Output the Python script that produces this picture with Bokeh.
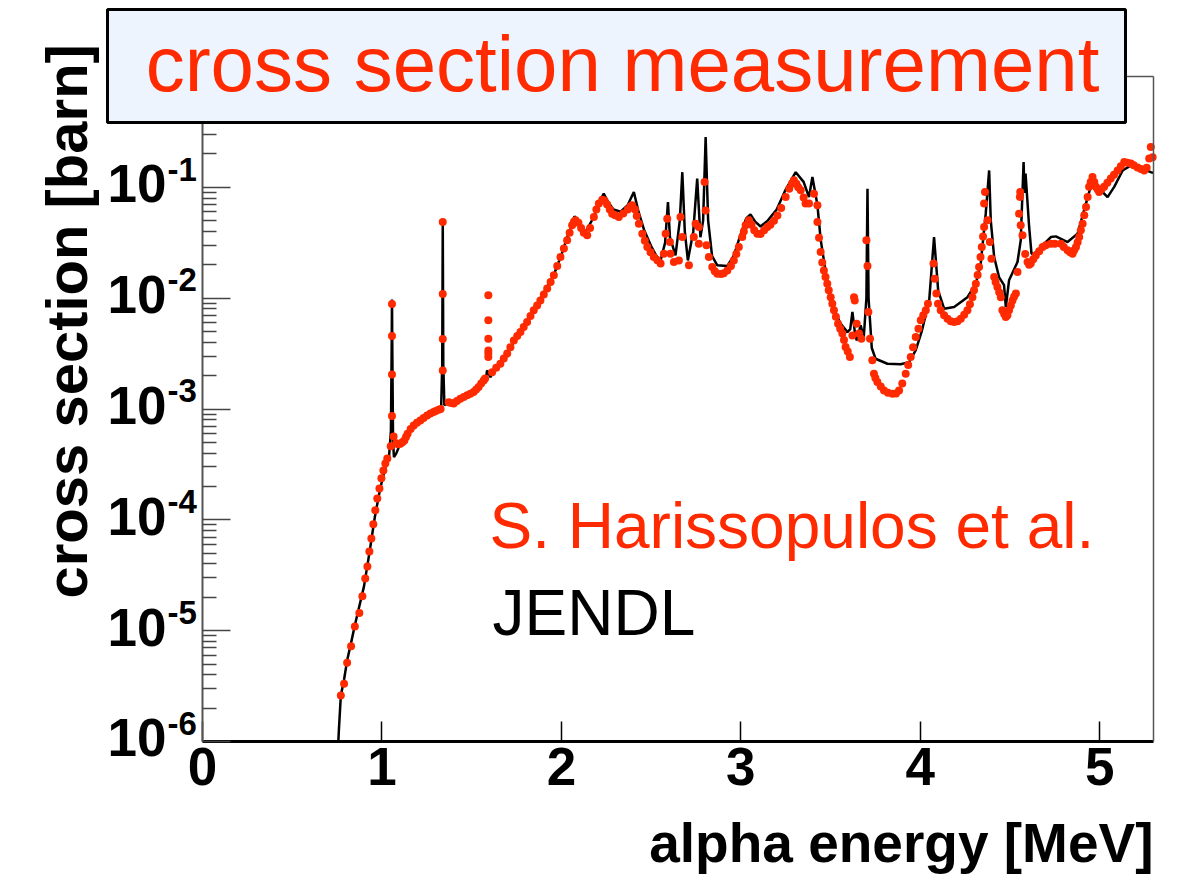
import math
from bokeh.plotting import figure
from bokeh.models import Range1d, FixedTicker, Label, BoxAnnotation, LinearAxis, LogAxis
from bokeh.embed import file_html
from bokeh.resources import INLINE

# ---- measured cross section (Harissopulos et al.), energy in MeV, sigma in barn
harissopulos_energy = [
    0.771, 0.789, 0.806, 0.828, 0.849, 0.874, 0.891, 0.907, 0.919, 0.930, 0.941, 0.952,
    0.963, 0.974, 0.986, 0.997, 1.008, 1.019, 1.030,
    1.049, 1.056, 1.056, 1.056, 1.056, 1.065,
    1.103, 1.125, 1.143, 1.177, 1.214, 1.252, 1.288, 1.316,
    1.339, 1.339, 1.339, 1.339,
    1.372, 1.400, 1.437, 1.475, 1.511, 1.539, 1.567,
    1.593, 1.593, 1.593, 1.593, 1.593, 1.593,
    1.614, 1.660, 1.698, 1.735, 1.772, 1.809, 1.846, 1.883, 1.921, 1.958, 1.995, 2.032,
    2.060, 2.079, 2.144, 2.181, 2.209, 2.228, 2.283, 2.320, 2.395, 2.432, 2.451, 2.479,
    2.515, 2.553, 2.571, 2.581, 2.590, 2.605, 2.608, 2.627, 2.655, 2.664, 2.674, 2.711,
    2.738, 2.748, 2.766, 2.766, 2.798, 2.804, 2.809, 2.822, 2.841, 2.869, 2.925, 2.961,
    2.989, 3.008, 3.027, 3.045, 3.092, 3.148, 3.204, 3.250, 3.296, 3.334, 3.361, 3.380,
    3.408, 3.427, 3.427, 3.445, 3.463, 3.482, 3.501, 3.519, 3.542, 3.566, 3.584, 3.608,
    3.622, 3.631, 3.635, 3.646, 3.659, 3.672,
    3.700, 3.706, 3.711, 3.720, 3.733, 3.742, 3.761, 3.798, 3.845, 3.882, 3.919, 3.947,
    3.975, 4.003, 4.031, 4.043, 4.074, 4.081, 4.090, 4.099, 4.114, 4.152, 4.189, 4.226,
    4.263, 4.291, 4.310, 4.328, 4.343, 4.356, 4.356, 4.361, 4.375, 4.388, 4.397, 4.412,
    4.430, 4.449, 4.458, 4.477, 4.495, 4.514, 4.533, 4.542, 4.551, 4.555, 4.557, 4.560,
    4.570, 4.598, 4.616, 4.644, 4.682, 4.728, 4.784, 4.821, 4.849, 4.868, 4.886, 4.905,
    4.924, 4.933, 4.941, 4.960, 4.979, 4.997, 5.025, 5.062, 5.100, 5.137, 5.174, 5.211,
    5.248, 5.276, 5.285, 5.295,
    # further points along the densely measured stretches
    1.080, 1.090, 1.114, 1.134, 1.160, 1.195, 1.232, 1.270, 1.300, 1.327,
    1.386, 1.418, 1.456, 1.493, 1.525, 1.553, 1.575,
    1.637, 1.679, 1.716, 1.754, 1.790, 1.828, 1.865, 1.902, 1.940, 1.977, 2.014, 2.046, 2.070,
    2.095, 2.110, 2.125, 2.160, 2.195, 2.240, 2.255, 2.270, 2.300, 2.345, 2.370, 2.385, 2.410,
    2.420, 2.465, 2.497, 2.535,
    2.855, 2.890, 2.905, 2.945, 2.975, 3.017, 3.060, 3.075, 3.110, 3.130, 3.165, 3.185, 3.225,
    3.270, 3.285, 3.310, 3.320, 3.350,
    3.436, 3.454, 3.472, 3.490, 3.510, 3.530, 3.554, 3.575, 3.596,
    3.750, 3.780, 3.820, 3.865, 3.900, 3.933, 3.960, 3.990, 4.017,
    4.133, 4.170, 4.208, 4.245, 4.277, 4.300, 4.320, 4.336, 4.350,
    4.420, 4.440, 4.468, 4.486, 4.505, 4.523,
    4.585, 4.607, 4.630, 4.663, 4.700, 4.750, 4.800, 4.835, 4.858, 4.877, 4.895, 4.914, 4.950,
    4.970, 4.988, 5.010, 5.043, 5.080, 5.118, 5.155, 5.190, 5.230, 5.262,
]
harissopulos_xs = [
    2.60e-6, 3.32e-6, 5.13e-6, 7.24e-6, 1.09e-5, 1.44e-5, 2.04e-5, 2.96e-5, 3.79e-5, 5.19e-5, 6.79e-5, 9.1e-5,
    1.22e-4, 1.56e-4, 1.92e-4, 2.37e-4, 2.79e-4, 3.23e-4, 3.58e-4,
    4.62e-4, 8.63e-4, 2.05e-3, 4.55e-3, 8.85e-3, 5.66e-4,
    4.86e-4, 5.21e-4, 5.98e-4, 7.11e-4, 7.89e-4, 8.75e-4, 9.38e-4, 9.86e-4,
    4.86e-2, 1.09e-2, 4.28e-3, 2.23e-3,
    1.15e-3, 1.12e-3, 1.24e-3, 1.33e-3, 1.42e-3, 1.58e-3, 1.81e-3,
    1.06e-2, 6.31e-3, 4.31e-3, 3.38e-3, 3.16e-3, 2.94e-3,
    2.15e-3, 2.56e-3, 3.16e-3, 4.16e-3, 4.94e-3, 6.08e-3, 7.76e-3, 9.55e-3, 1.22e-2, 1.61e-2, 2.35e-2, 3.33e-2,
    4.54e-2, 5.04e-2, 3.69e-2, 5.40e-2, 7.13e-2, 7.74e-2, 5.79e-2, 5.40e-2, 6.89e-2, 4.70e-2, 3.82e-2, 2.89e-2,
    2.35e-2, 2.05e-2, 2.52e-2, 3.82e-2, 5.21e-2, 3.21e-2, 2.52e-2, 2.12e-2, 2.19e-2, 5.40e-2, 3.56e-2, 1.98e-2,
    3.56e-2, 4.70e-2, 4.39e-2, 3.10e-2, 0.112, 6.19e-2, 3.00e-2, 2.35e-2, 1.91e-2, 1.66e-2, 1.78e-2, 2.19e-2,
    2.89e-2, 3.56e-2, 4.54e-2, 5.04e-2, 3.82e-2, 4.39e-2, 5.58e-2, 8.17e-2, 0.116, 9.40e-2, 7.13e-2, 7.13e-2,
    8.77e-2, 6.89e-2, 4.86e-2, 2.61e-2, 1.78e-2, 1.35e-2, 1.02e-2, 7.76e-3, 5.89e-3, 4.79e-3, 3.62e-3, 2.94e-3,
    4.61e-3, 1.02e-2, 9.55e-3, 5.89e-3, 4.79e-3, 4.31e-3,
    3.33e-2, 1.95e-2, 7.50e-3, 4.31e-3, 2.75e-3, 2.08e-3, 1.75e-3, 1.47e-3, 1.37e-3, 1.47e-3, 2.08e-3, 2.94e-3,
    4.46e-3, 6.31e-3, 7.76e-3, 8.91e-3, 2.05e-2, 1.50e-2, 1.10e-2, 8.91e-3, 7.76e-3, 6.53e-3, 6.08e-3, 6.53e-3,
    7.76e-3, 1.02e-2, 1.35e-2, 1.91e-2, 2.89e-2, 4.39e-2, 7.13e-2, 9.08e-2, 5.04e-2, 3.21e-2, 2.27e-2, 1.55e-2,
    1.26e-2, 1.02e-2, 7.76e-3, 6.76e-3, 7.76e-3, 9.55e-3, 1.10e-2, 1.72e-2, 5.79e-2, 8.17e-2, 9.08e-2, 4.54e-2,
    3.69e-2, 2.12e-2, 2.05e-2, 2.43e-2, 2.89e-2, 3.10e-2, 3.10e-2, 2.70e-2, 2.52e-2, 2.89e-2, 3.56e-2, 4.70e-2,
    6.64e-2, 8.17e-2, 0.101, 0.124, 0.101, 9.08e-2, 0.101, 0.120, 0.142, 0.169, 0.164, 0.151,
    0.142, 0.182, 0.231, 0.187,
    4.9e-4, 4.8e-4, 5.0e-4, 5.6e-4, 6.6e-4, 7.5e-4, 8.3e-4, 9.1e-4, 9.6e-4, 1.0e-3,
    1.13e-3, 1.18e-3, 1.28e-3, 1.37e-3, 1.50e-3, 1.70e-3, 1.88e-3,
    2.35e-3, 2.85e-3, 3.6e-3, 4.55e-3, 5.5e-3, 6.9e-3, 8.6e-3, 1.08e-2, 1.40e-2, 1.95e-2, 2.8e-2, 3.9e-2, 4.9e-2,
    4.8e-2, 4.3e-2, 3.9e-2, 4.3e-2, 6.3e-2, 7.6e-2, 7.0e-2, 6.3e-2, 5.6e-2, 5.8e-2, 6.3e-2, 6.7e-2, 6.3e-2,
    5.5e-2, 3.3e-2, 2.6e-2, 2.2e-2,
    1.75e-2, 1.65e-2, 1.68e-2, 1.95e-2, 2.5e-2, 4.0e-2, 4.6e-2, 4.1e-2, 3.8e-2, 4.1e-2, 4.6e-2, 5.0e-2, 6.5e-2,
    9.7e-2, 0.108, 0.108, 0.100, 8.1e-2,
    3.5e-2, 2.1e-2, 1.55e-2, 1.18e-2, 8.9e-3, 6.8e-3, 5.3e-3, 4.2e-3, 3.3e-3,
    1.9e-3, 1.6e-3, 1.4e-3, 1.38e-3, 1.7e-3, 2.5e-3, 3.6e-3, 5.3e-3, 7.0e-3,
    7.0e-3, 6.2e-3, 6.2e-3, 7.1e-3, 8.8e-3, 1.18e-2, 1.62e-2, 2.35e-2, 3.6e-2,
    1.4e-2, 1.13e-2, 7.2e-3, 7.0e-3, 8.6e-3, 1.03e-2,
    2.5e-2, 2.0e-2, 2.25e-2, 2.65e-2, 3.0e-2, 3.1e-2, 2.9e-2, 2.6e-2, 2.7e-2, 3.2e-2, 4.1e-2, 5.6e-2, 0.112,
    0.112, 9.6e-2, 9.6e-2, 0.110, 0.130, 0.155, 0.167, 0.158, 0.146, 0.150,
]

# ---- evaluated cross section (JENDL)
jendl_energy = [
    0.757, 0.760, 0.771, 0.789, 0.806, 0.828, 0.849, 0.874, 0.900, 0.930, 0.960, 0.990,
    1.020, 1.040, 1.050, 1.054, 1.056, 1.058, 1.062, 1.067, 1.080, 1.100, 1.140, 1.200,
    1.260, 1.310, 1.330, 1.336, 1.339, 1.342, 1.348, 1.370, 1.400, 1.450, 1.500, 1.550,
    1.580, 1.586, 1.605, 1.620, 1.660, 1.700, 1.740, 1.780, 1.810, 1.850, 1.880, 1.920,
    1.960, 2.000, 2.030, 2.060, 2.073, 2.100, 2.134, 2.180, 2.210, 2.236, 2.260, 2.290,
    2.330, 2.370, 2.404, 2.430, 2.460, 2.500, 2.530, 2.553, 2.578, 2.594, 2.605, 2.636,
    2.660, 2.674, 2.688, 2.705, 2.735, 2.757, 2.775, 2.790, 2.804, 2.818, 2.840, 2.869,
    2.925, 2.960, 3.000, 3.030, 3.054, 3.080, 3.110, 3.150, 3.200, 3.250, 3.306, 3.350,
    3.380, 3.399, 3.427, 3.445, 3.480, 3.520, 3.556, 3.594, 3.610, 3.622, 3.635, 3.646,
    3.668, 3.685, 3.700, 3.706, 3.712, 3.730, 3.751, 3.817, 3.891, 3.938, 3.975, 4.010,
    4.050, 4.077, 4.100, 4.133, 4.189, 4.263, 4.310, 4.337, 4.365, 4.384, 4.393, 4.412,
    4.439, 4.467, 4.477, 4.495, 4.542, 4.560, 4.576, 4.581, 4.587, 4.607, 4.620, 4.635,
    4.728, 4.756, 4.821, 4.877, 4.913, 4.960, 5.007, 5.044, 5.081, 5.128, 5.174, 5.230,
    5.286, 5.300,
]
jendl_xs = [
    1.0e-6, 1.26e-6, 2.6e-6, 3.63e-6, 5.37e-6, 7.76e-6, 1.12e-5, 1.66e-5, 2.51e-5, 5.01e-5, 1.05e-4, 1.91e-4,
    3.02e-4, 3.80e-4, 6.31e-4, 3.16e-3, 9.70e-3, 3.16e-3, 5.01e-4, 3.68e-4, 3.98e-4, 4.79e-4, 5.89e-4, 7.59e-4,
    8.71e-4, 9.77e-4, 1.02e-3, 2.51e-3, 4.90e-2, 2.51e-3, 1.08e-3, 1.15e-3, 1.15e-3, 1.26e-3, 1.41e-3, 1.66e-3,
    1.91e-3, 2.23e-3, 1.94e-3, 2.19e-3, 2.57e-3, 3.16e-3, 4.17e-3, 5.13e-3, 6.17e-3, 7.94e-3, 9.77e-3, 1.26e-2,
    1.66e-2, 2.45e-2, 3.47e-2, 4.57e-2, 5.47e-2, 4.79e-2, 3.95e-2, 5.37e-2, 7.24e-2, 8.77e-2, 7.41e-2, 6.31e-2,
    6.03e-2, 6.92e-2, 9.08e-2, 6.03e-2, 4.17e-2, 2.95e-2, 2.40e-2, 2.19e-2, 3.16e-2, 7.36e-2, 3.55e-2, 2.43e-2,
    5.01e-2, 0.137, 3.98e-2, 2.19e-2, 3.98e-2, 0.120, 3.55e-2, 5.01e-2, 0.284, 5.01e-2, 2.40e-2, 1.98e-2,
    1.95e-2, 2.40e-2, 3.80e-2, 5.25e-2, 5.70e-2, 4.90e-2, 4.43e-2, 5.01e-2, 6.31e-2, 9.55e-2, 0.137, 0.112,
    8.17e-2, 0.124, 6.92e-2, 3.39e-2, 1.45e-2, 7.76e-3, 5.89e-3, 4.94e-3, 5.25e-3, 7.50e-3, 5.01e-3, 4.16e-3,
    5.69e-3, 4.37e-3, 1.0e-2, 9.73e-2, 1.0e-2, 3.55e-3, 2.84e-3, 2.56e-3, 2.53e-3, 2.65e-3, 3.39e-3, 5.13e-3,
    9.55e-3, 3.56e-2, 1.17e-2, 8.04e-3, 8.32e-3, 1.02e-2, 1.35e-2, 2.05e-2, 5.79e-2, 0.142, 5.04e-2, 2.35e-2,
    1.55e-2, 1.31e-2, 8.32e-3, 1.45e-2, 2.12e-2, 3.31e-2, 0.169, 8.91e-2, 0.133, 4.39e-2, 2.52e-2, 2.52e-2,
    3.56e-2, 3.61e-2, 3.21e-2, 3.82e-2, 6.19e-2, 0.116, 9.40e-2, 8.17e-2, 0.101, 0.142, 0.158, 0.148,
    0.137, 0.135,
]

x_ticks = [0, 1, 2, 3, 4, 5]
y_decades = [-6, -5, -4, -3, -2, -1]
legend_entries = ["S. Harissopulos et al.", "JENDL"]

X_MIN, X_MAX = 0.0, 5.3
LOG_MIN, LOG_MAX = -6.0, 0.0

# canvas and axes-box geometry (pixels); the plotting frame spans the whole
# canvas so that the title box and the axis texts can sit outside the axes box
WIDTH, HEIGHT = 1178, 875
BOX_LEFT, BOX_TOP, BOX_RIGHT, BOX_BOTTOM = 202, 76, 1153, 741

RED = "#ff2a00"
FONT = "Liberation Sans"
BASELINE_SHIFT = 0.37   # lift of the alphabetic anchor, as a fraction of the font size


def data_x(px):
    """canvas x pixel -> energy"""
    return X_MIN + (px - BOX_LEFT) / (BOX_RIGHT - BOX_LEFT) * (X_MAX - X_MIN)


def data_y(py):
    """canvas y pixel -> cross section"""
    return 10 ** (LOG_MAX - (py - BOX_TOP) / (BOX_BOTTOM - BOX_TOP) * (LOG_MAX - LOG_MIN))


def text_label(x, y, text, size, color="black", bold=False, align="left",
               x_offset=0, y_offset=0, angle=0.0, **kw):
    lift = BASELINE_SHIFT * size
    return Label(x=x, y=y, text=text, text_align=align, text_baseline="alphabetic",
                 x_offset=x_offset - lift * math.sin(angle),
                 y_offset=y_offset + lift * math.cos(angle), angle=angle,
                 text_font=FONT, text_font_style="bold" if bold else "normal",
                 text_font_size=f"{size}px", text_color=color, **kw)


p = figure(
    width=WIDTH, height=HEIGHT,
    x_range=Range1d(data_x(0), data_x(WIDTH)), y_range=Range1d(data_y(HEIGHT), data_y(0)),
    y_axis_type="log",
    output_backend="svg", toolbar_location=None,
    min_border=0,
)
p.background_fill_color = "white"
p.border_fill_color = "white"
p.outline_line_color = None
p.xgrid.visible = False
p.ygrid.visible = False

# x axis along sigma = 1e-6, ticks drawn inward
xa = p.xaxis[0]
xa.fixed_location = 10 ** LOG_MIN
xa.bounds = (X_MIN, X_MAX)
xa.ticker = FixedTicker(ticks=x_ticks, minor_ticks=[])
xa.major_tick_in = 20
xa.major_tick_out = 0
xa.minor_tick_in = 0
xa.minor_tick_out = 0
xa.major_tick_line_color = "black"
xa.major_tick_line_width = 1.5
xa.axis_line_color = "black"
xa.axis_line_width = 3
xa.major_label_text_font = FONT
xa.major_label_text_font_style = "bold"
xa.major_label_text_font_size = "53px"
xa.major_label_text_color = "black"
xa.major_label_standoff = 6

# y axis along E = 0: decade ticks plus linear minor ticks inside each decade
decade_ticks = [10.0 ** k for k in y_decades]
ya = p.yaxis[0]
ya.fixed_location = X_MIN
ya.bounds = (10 ** LOG_MIN, 10 ** LOG_MAX)
ya.ticker = FixedTicker(
    ticks=decade_ticks,
    minor_ticks=[m * 10.0 ** k for k in range(int(LOG_MIN), int(LOG_MAX)) for m in range(2, 10)],
)
ya.major_tick_in = 28
ya.major_tick_out = 0
ya.minor_tick_in = 14
ya.minor_tick_out = 0
ya.major_tick_line_color = "#444444"
ya.minor_tick_line_color = "#444444"
ya.major_tick_line_width = 1.5
ya.minor_tick_line_width = 1.5
ya.axis_line_color = "#555555"
ya.axis_line_width = 2
# decade labels are set below as "10" with a raised exponent
ya.major_label_overrides = {t: "" for t in decade_ticks}

# right and top edges of the axes box
right_edge = LogAxis(fixed_location=X_MAX, bounds=(10 ** LOG_MIN, 10 ** LOG_MAX),
                     ticker=FixedTicker(ticks=[], minor_ticks=[]),
                     axis_line_color="#555555", axis_line_width=1.5,
                     major_label_text_font_size="1px", major_label_text_alpha=0)
top_edge = LinearAxis(fixed_location=10 ** LOG_MAX, bounds=(X_MIN, X_MAX),
                      ticker=FixedTicker(ticks=[], minor_ticks=[]),
                      axis_line_color="#555555", axis_line_width=1.5,
                      major_label_text_font_size="1px", major_label_text_alpha=0)
p.add_layout(right_edge, "right")
p.add_layout(top_edge, "above")

# data
p.line(jendl_energy, jendl_xs, line_color="black", line_width=2.5)
p.scatter(harissopulos_energy, harissopulos_xs, size=8, marker="circle",
          fill_color=RED, line_color=RED, line_width=0)

# y tick labels
for k in y_decades:
    p.add_layout(text_label(X_MIN, 10.0 ** k, "10", 53, bold=True, align="right",
                            x_offset=-36, y_offset=-16))
    p.add_layout(text_label(X_MIN, 10.0 ** k, str(k), 33, bold=True, align="left",
                            x_offset=-35, y_offset=6))

# axis titles
p.add_layout(text_label(X_MAX, 10 ** LOG_MIN, "alpha energy [MeV]", 55, bold=True,
                        align="right", y_offset=-122))
p.add_layout(text_label(data_x(87), data_y(598), "cross section [barn]", 58, bold=True,
                        align="left", angle=math.pi / 2))

# legend texts
p.add_layout(text_label(data_x(489), data_y(549), legend_entries[0], 64, color=RED))
p.add_layout(text_label(data_x(492), data_y(636), legend_entries[1], 64))

# title box overlapping the top of the axes box
p.add_layout(BoxAnnotation(left=data_x(107), right=data_x(1125), top=data_y(9), bottom=data_y(122),
                           fill_color="#edf4fd", fill_alpha=1.0,
                           line_color="black", line_alpha=1.0, line_width=3, level="overlay"))
p.add_layout(text_label(data_x(622), data_y(92), "cross section measurement", 78,
                        color=RED, align="center", level="overlay"))

open("out.html", "w").write(file_html(p, INLINE))
